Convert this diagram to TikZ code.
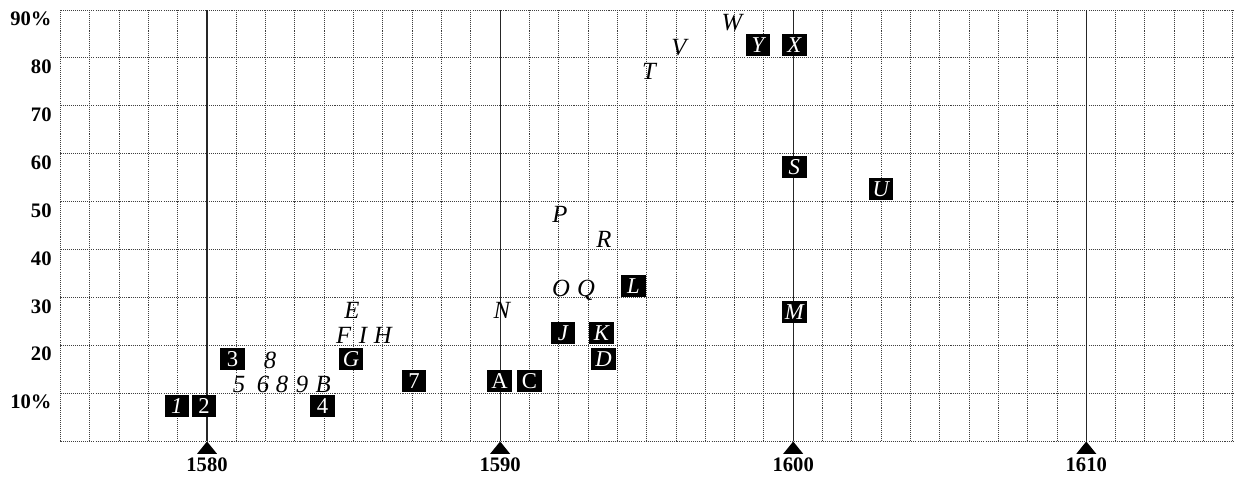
\documentclass[tikz,border=0pt]{standalone}
\usepackage{fontspec}
\setmainfont{Liberation Serif}
\usepackage{tikz}
\tikzset{>=latex}
\usetikzlibrary{positioning}
\tikzset{
  gridline/.style={dash pattern=on 0.5pt off 0.5pt, line width=0.45pt, black!75},
  yearline/.style={line width=0.6pt, black!85},
  axislabel/.style={font=\fontsize{10}{10}\selectfont\bfseries, inner sep=0pt},
  dated/.style={font=\fontsize{12}{12}\selectfont\itshape, inner sep=0pt, anchor=base},
  boxed/.style={fill=black, text=white, font=\fontsize{11}{11}\selectfont, minimum width=0.42cm, minimum height=0.37cm, inner sep=0pt},
}

\begin{document}
\begin{tikzpicture}[x=0.5cm, y=0.08178cm]
    \useasboundingbox (-2.064,-7.2) rectangle (40.04,92.09);

    % grid, one column per year from 1575
    \foreach \i in {0,...,40} \draw[gridline] (\i,0) -- (\i,90);
    \foreach \j in {0,10,...,90} \draw[gridline] (0,\j) -- (40,\j);

    % decades
    \foreach \x/\yr in {5/1580,15/1590,25/1600,35/1610} {
        \draw[yearline] (\x,0) -- (\x,90);
        \fill (\x,0) -- ++(-0.17cm,-0.21cm) -- ++(0.34cm,0) -- cycle;
        \node[axislabel, anchor=base] (yr\yr) at (\x,-6.3) {\yr};
    }

    % percentages
    \foreach \v/\t in {90/90\%,80/80,70/70,60/60,50/50,40/40,30/30,20/20,10/10\%}
        \node[axislabel, anchor=base east] (pc\v) at (-0.29,\v-3.2) {\t};

    % boxed entries
    \foreach \x/\y/\t/\n in {3.97/7.4/\itshape 1/b1, 4.90/7.4/2/b2, 5.87/17.2/3/b3, 8.94/7.4/4/b4,
        9.91/17.2/\itshape G/bG, 12.06/12.6/7/b7, 14.98/12.6/A/bA, 16.0/12.6/C/bC,
        17.14/22.6/\itshape J/bJ, 18.46/22.6/\itshape K/bK, 18.53/17.2/\itshape D/bD,
        19.55/32.4/\itshape L/bL, 25.04/27/\itshape M/bM, 25.04/57.3/\itshape S/bS,
        27.99/52.7/\itshape U/bU, 23.80/82.7/\itshape Y/bY, 25.04/82.7/\itshape X/bX}
        \node[boxed] (\n) at (\x,\y) {\t};

    % plain entries
    \foreach \x/\y/\t/\n in {7.15/15.3/8/t8a, 6.09/10.3/5/t5, 6.91/10.3/6/t6, 7.56/10.3/8/t8b,
        8.24/10.3/9/t9, 8.96/10.3/B/tB, 9.94/25.6/E/tE, 9.66/20.5/F/tF, 10.32/20.5/I/tI,
        11.0/20.5/H/tH, 15.06/25.6/N/tN, 17.04/45.6/P/tP, 18.54/40.4/R/tR,
        17.08/30.2/O/tO, 17.93/30.2/Q/tQ, 20.08/75.6/T/tT, 21.10/80.6/V/tV, 22.91/85.7/W/tW}
        \node[dated] (\n) at (\x,\y) {\t};
\end{tikzpicture}
\end{document}
